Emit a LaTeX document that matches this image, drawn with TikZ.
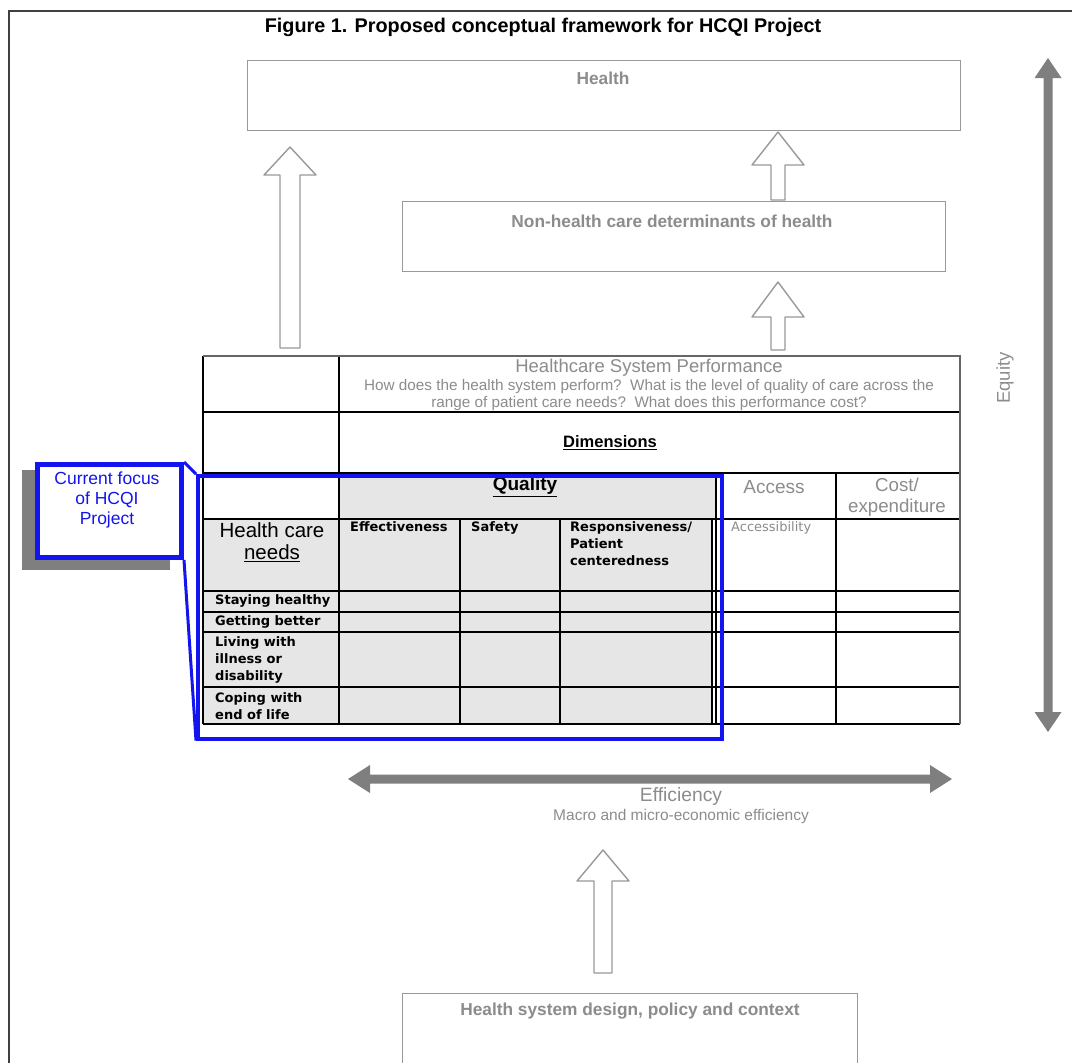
\documentclass[tikz,border=0pt]{standalone}
\usepackage{fontspec}
\setmainfont{Liberation Sans}
\newfontfamily\tabfont{DejaVu Sans}
\definecolor{boxgray}{HTML}{999999}
\definecolor{txtgray}{HTML}{8C8C8C}
\definecolor{bandgray}{HTML}{7F7F7F}
\definecolor{qualfill}{HTML}{E6E6E6}
\definecolor{focusblue}{HTML}{1414F0}
% hollow upward block arrow: centre x, tip y, head base y, tail y, head half width, shaft half width
\newcommand{\blockup}[6]{%
  \draw[hollow] (#1,#2) -- ({#1+#5},#3) -- ({#1+#6},#3) -- ({#1+#6},#4)
    -- ({#1-#6},#4) -- ({#1-#6},#3) -- ({#1-#5},#3) -- cycle;}
\begin{document}
\begin{tikzpicture}[x=1pt,y=-1pt,
  gbox/.style={draw=boxgray, line width=1.3pt, fill=white, inner sep=0pt, anchor=north west},
  hollow/.style={draw=boxgray, line width=1.4pt, fill=white, line join=round},
  band/.style={fill=bandgray, draw=none},
  grid/.style={draw=black, line width=1.3pt},
  outergrid/.style={draw=black!60, line width=1.3pt},
  gtext/.style={text=txtgray, inner sep=0pt, font=\bfseries\fontsize{17.3}{20}\selectfont},
  htext/.style={text=black, inner sep=0pt, font=\tabfont\bfseries\fontsize{13}{17}\selectfont, align=left, anchor=west},
]
\useasboundingbox (0,0) rectangle (1072,1063);
\clip (0,0) rectangle (1072,1063);

% page frame
\draw[line width=2.4pt, draw=black!75] (9,1070) -- (9,11) -- (1080,11);

% title
\node[inner sep=0pt, font=\bfseries\fontsize{19.8}{22}\selectfont] (title) at (543,27)
  {Figure 1. Proposed conceptual framework for HCQI Project};

% outcome boxes
\node[gbox, minimum width=713pt, minimum height=70pt] (health) at (247,60) {};
\node[gtext] (healthlbl) at (603,78) {Health};
\node[gbox, minimum width=543pt, minimum height=70pt] (nonhealth) at (402,201) {};
\node[gtext] (nonhealthlbl) at (672,221) {Non-health care determinants of health};
\node[gbox, minimum width=455pt, minimum height=72pt] (design) at (402,993) {};
\node[gtext] (designlbl) at (630,1011) {Health system design, policy and context};

% hollow block arrows
\blockup{290}{147}{175}{348}{26}{10}
\blockup{778}{132}{165}{200}{26}{7}
\blockup{778}{282}{317}{350}{26}{7}
\blockup{603}{850}{881}{973}{26}{9}

% equity and efficiency double arrows
\fill[band] (1048,58) -- (1061.5,78) -- (1052.5,78) -- (1052.5,712) -- (1061.5,712)
  -- (1048,732) -- (1034.5,712) -- (1043.5,712) -- (1043.5,78) -- (1034.5,78) -- cycle;
\node[text=txtgray, rotate=90, inner sep=0pt, font=\fontsize{18.5}{20}\selectfont] (equity) at (1005,378) {Equity};
\fill[band] (348,779) -- (370,765) -- (370,774.5) -- (930,774.5) -- (930,765) -- (952,779)
  -- (930,793) -- (930,783.5) -- (370,783.5) -- (370,793) -- cycle;
\node[text=txtgray, inner sep=0pt, font=\fontsize{19.3}{22}\selectfont] (eff) at (681,797) {Efficiency};
\node[text=txtgray, inner sep=0pt, font=\fontsize{15.5}{17}\selectfont] (effsub) at (681,816) {Macro and micro-economic efficiency};

% performance table: shaded quality block
\fill[white] (203,356) rectangle (960,724);
\fill[qualfill] (339,473) rectangle (716,519);
\fill[qualfill] (339,519) rectangle (712,724);
\fill[qualfill] (203,519) rectangle (339,724);

% table rules
\foreach \yy in {412,473,519,591,612,632,687,724}
  \draw[grid] (203,\yy) -- (960,\yy);
\foreach \xx in {203,339}
  \draw[grid] (\xx,356) -- (\xx,724);
\draw[outergrid] (203,356) -- (960,356) -- (960,724);
\foreach \xx in {716,836}
  \draw[grid] (\xx,473) -- (\xx,724);
\foreach \xx in {460,560,712}
  \draw[grid] (\xx,519) -- (\xx,724);

% table header texts
\node[text=txtgray, inner sep=0pt, font=\fontsize{18.5}{20}\selectfont] (perf) at (649,368) {Healthcare System Performance};
\node[text=txtgray, inner sep=0pt, align=center, font=\fontsize{15.3}{17}\selectfont] (perfsub) at (649,395)
  {How does the health system perform?\ \ What is the level of quality of care across the\\
   range of patient care needs?\ \ What does this performance cost?};
\node[inner sep=0pt, font=\bfseries\fontsize{16.5}{18}\selectfont] (dims) at (610,443) {\underline{Dimensions}};
\node[inner sep=0pt, font=\bfseries\fontsize{19}{20}\selectfont] (quality) at (525,487) {\underline{Quality}};
\node[text=txtgray, inner sep=0pt, font=\fontsize{19}{20}\selectfont] (access) at (774,487) {Access};
\node[text=txtgray, inner sep=0pt, align=center, font=\fontsize{18.7}{21}\selectfont] (cost) at (897,497) {Cost/\\expenditure};

\node[inner sep=0pt, align=center, font=\fontsize{20.5}{22}\selectfont] (needs) at (272,542) {Health care\\\underline{needs}};
\node[htext, anchor=north west] (effect) at (350,521) {Effectiveness};
\node[htext, anchor=north west] (safety) at (471,521) {Safety};
\node[htext, anchor=north west] (resp) at (570,521) {Responsiveness/\\Patient\\centeredness};
\node[htext, anchor=north west, text=txtgray, font=\tabfont\fontsize{13}{14}\selectfont] (accessib) at (731,521) {Accessibility};

\node[htext] (r1) at (215,601) {Staying healthy};
\node[htext] (r2) at (215,622) {Getting better};
\node[htext] (r3) at (215,660) {Living with\\illness or\\disability};
\node[htext] (r4) at (215,706) {Coping with\\end of life};

% focus highlight and its callout
\node[draw=focusblue, line width=3.5pt, inner sep=0pt, anchor=north west,
      minimum width=524pt, minimum height=263pt] (focus) at (196,474) {};
\fill[bandgray] (22,470) rectangle (170,570);
\node[draw=focusblue, fill=white, line width=5pt, inner sep=0pt, anchor=north west,
      minimum width=144pt, minimum height=93pt] (callout) at (35,462) {};
\node[text=focusblue, inner sep=0pt, align=center, font=\fontsize{17.5}{20}\selectfont] (calloutlbl) at (107,500)
  {Current focus\\of HCQI\\Project};
\draw[focusblue, line width=3pt] (callout.north east) -- (focus.north west);
\draw[focusblue, line width=3pt] (callout.south east) -- (focus.south west);
\end{tikzpicture}
\end{document}
